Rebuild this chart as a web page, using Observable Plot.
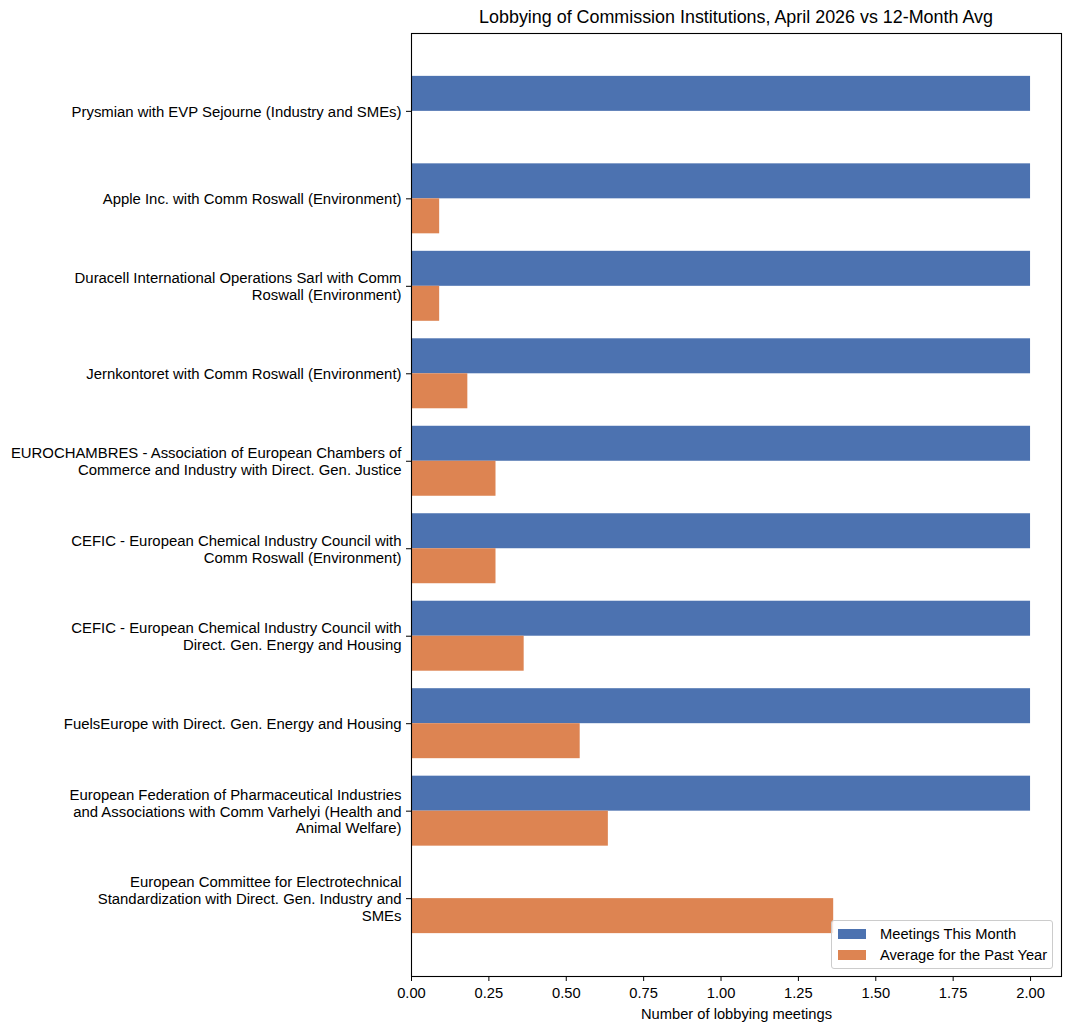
<!DOCTYPE html>
<html>
<head>
<meta charset="utf-8">
<script src="https://cdn.jsdelivr.net/npm/d3@7"></script>
<script src="https://cdn.jsdelivr.net/npm/@observablehq/plot@0.6"></script>
<style>
  html, body { margin: 0; padding: 0; background: white; }
  #wrap { position: relative; width: 1071px; height: 1033px; font-family: "Liberation Sans", Arial, sans-serif; }
  #title { position: absolute; left: 361px; width: 750px; top: 7px; text-align: center; font-size: 17.9px; line-height: 21px; color: black; }
  #chart { position: absolute; left: 0; top: 32px; }
  #legend { position: absolute; left: 831px; top: 920px; width: 222px; height: 49px; border: 1px solid #cccccc; border-radius: 3px; background: rgba(255,255,255,0.8); box-sizing: border-box; }
  .item { position: absolute; left: 6px; height: 16px; display: flex; align-items: center; font-size: 14.7px; color: black; white-space: nowrap; }
  .sw { width: 28px; height: 10px; margin-right: 14px; }
</style>
</head>
<body>
<div id="wrap">
  <div id="title"></div>
  <div id="chart"></div>
  <div id="legend"></div>
</div>
<script>
const titleText = "Lobbying of Commission Institutions, April 2026 vs 12-Month Avg";
const xLabel = "Number of lobbying meetings";
const categories = [
  "Prysmian with EVP Sejourne (Industry and SMEs)",
  "Apple Inc. with Comm Roswall (Environment)",
  "Duracell International Operations Sarl with Comm\nRoswall (Environment)",
  "Jernkontoret with Comm Roswall (Environment)",
  "EUROCHAMBRES - Association of European Chambers of\nCommerce and Industry with Direct. Gen. Justice",
  "CEFIC - European Chemical Industry Council with\nComm Roswall (Environment)",
  "CEFIC - European Chemical Industry Council with\nDirect. Gen. Energy and Housing",
  "FuelsEurope with Direct. Gen. Energy and Housing",
  "European Federation of Pharmaceutical Industries\nand Associations with Comm Varhelyi (Health and\nAnimal Welfare)",
  "European Committee for Electrotechnical\nStandardization with Direct. Gen. Industry and\nSMEs"
];
const meetingsThisMonth = [2, 2, 2, 2, 2, 2, 2, 2, 2, 0];
const averagePastYear = [0, 0.091, 0.091, 0.182, 0.273, 0.273, 0.364, 0.545, 0.636, 1.364];
const seriesNames = ["Meetings This Month", "Average for the Past Year"];
const seriesColors = ["#4c72b0", "#dd8452"];
const xTicks = [0, 0.25, 0.5, 0.75, 1, 1.25, 1.5, 1.75, 2];

document.getElementById("title").textContent = titleText;

const thisMonthRows = categories.map((c, i) => ({category: c, series: seriesNames[0], value: meetingsThisMonth[i]}));
const avgRows = categories.map((c, i) => ({category: c, series: seriesNames[1], value: averagePastYear[i]}));

const W = 1071, H = 1001, mT = 1, mB = 57, mL = 411, mR = 10;
const padInner = 0.2, padOuter = 0.49;
const plotH = H - mT - mB;
const step = plotH / (categories.length - padInner + 2 * padOuter);
const half = step * (1 - padInner) / 2;

const chart = Plot.plot({
  width: W, height: H,
  marginTop: mT, marginBottom: mB, marginLeft: mL, marginRight: mR,
  style: {fontFamily: "'Liberation Sans', Arial, sans-serif", fontSize: "14.7px", color: "black", background: "white", overflow: "visible"},
  x: {domain: [0, 2.1]},
  y: {domain: categories, paddingInner: padInner, paddingOuter: padOuter, round: false},
  color: {domain: seriesNames, range: seriesColors},
  marks: [
    Plot.barX(thisMonthRows, {y: "category", x: "value", fill: "series", insetBottom: half}),
    Plot.barX(avgRows, {y: "category", x: "value", fill: "series", insetTop: half}),
    Plot.frame({stroke: "black", strokeWidth: 1.1}),
    Plot.axisX({ticks: xTicks, tickFormat: d3.format(".2f"), tickSize: 5, tickPadding: 6, label: xLabel, labelAnchor: "center", labelOffset: 42, labelArrow: "none"}),
    Plot.axisY({tickSize: 5, tickPadding: 5, lineHeight: 1.13, fontSize: 14.9, label: null})
  ]
});
document.getElementById("chart").appendChild(chart);

const legend = document.getElementById("legend");
seriesNames.forEach((name, i) => {
  const item = document.createElement("div");
  item.className = "item";
  item.style.top = (5 + i * 21) + "px";
  const sw = document.createElement("div");
  sw.className = "sw";
  sw.style.background = seriesColors[i];
  const t = document.createElement("span");
  t.textContent = name;
  item.appendChild(sw);
  item.appendChild(t);
  legend.appendChild(item);
});
</script>
</body>
</html>
